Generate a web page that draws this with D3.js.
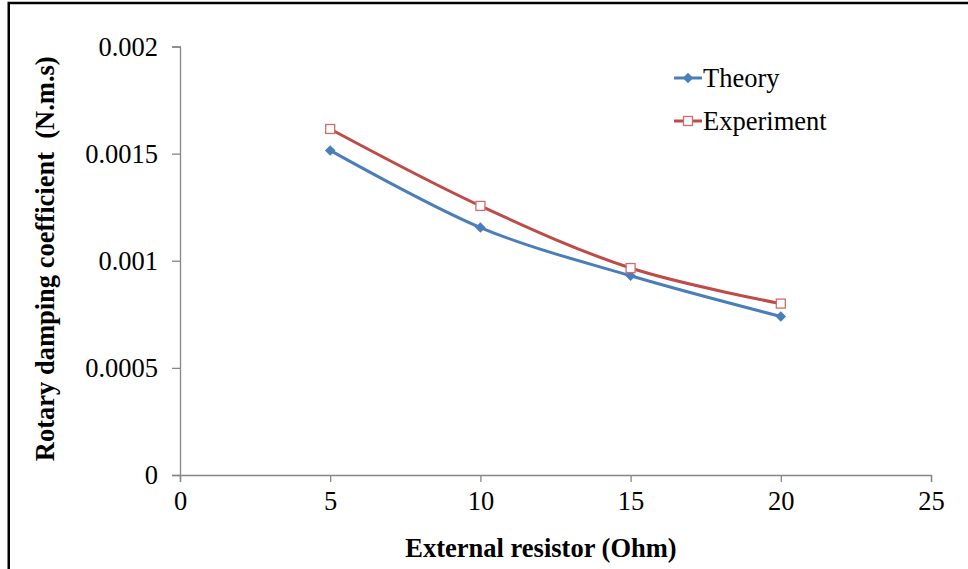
<!DOCTYPE html>
<html>
<head>
<meta charset="utf-8">
<script src="https://cdn.jsdelivr.net/npm/d3@7"></script>
<style>
  html, body { margin: 0; padding: 0; background: #fff; }
  svg { display: block; font-family: "Liberation Serif", "Times New Roman", serif; }
</style>
</head>
<body>
<div id="chart"></div>
<script>
// values
const resistors = [5, 10, 15, 20];
const theory = [0.001515, 0.001155, 0.00093, 0.00074];
const experiment = [0.001615, 0.001256, 0.000966, 0.0008];
const xTicks = [0, 5, 10, 15, 20, 25];
const yTicks = [0, 0.0005, 0.001, 0.0015, 0.002];
const seriesNames = ['Theory', 'Experiment'];

const width = 968;
const height = 569;
const margin = { top: 46.5, right: 37, bottom: 94, left: 180 };

const svg = d3.select('#chart')
  .append('svg')
  .attr('width', width)
  .attr('height', height);

// outer frame (bottom and right run off the picture)
svg.append('rect')
  .attr('x', 8.75)
  .attr('y', 3)
  .attr('width', 1000)
  .attr('height', 700)
  .attr('fill', 'none')
  .attr('stroke', '#000')
  .attr('stroke-width', 2.5);

const x = d3.scaleLinear()
  .domain([0, 25])
  .range([margin.left, width - margin.right]);

const y = d3.scaleLinear()
  .domain([0, 0.002])
  .range([height - margin.bottom, margin.top]);

const axisColor = '#868686';
const fontSize = 26.5;

/* x axis */
const gx = svg.append('g')
  .attr('transform', `translate(0,${y(0)})`)
  .call(d3.axisBottom(x).tickValues(xTicks).tickSize(7).tickPadding(9).tickFormat(d => d));
/* y axis */
const gy = svg.append('g')
  .attr('transform', `translate(${x(0)},0)`)
  .call(d3.axisLeft(y).tickValues(yTicks).tickSize(8).tickPadding(14).tickFormat(d => String(d)));

[gx, gy].forEach(g => {
  g.select('.domain').attr('stroke', axisColor).attr('stroke-width', 1.3);
  g.selectAll('.tick line').attr('stroke', axisColor).attr('stroke-width', 1.3);
  g.selectAll('.tick text')
    .attr('fill', '#000')
    .attr('font-size', fontSize)
    .attr('font-family', '"Liberation Serif", "Times New Roman", serif');
});
gy.selectAll('.tick text').attr('dy', '0.33em');
gx.selectAll('.tick text').attr('dy', '0.72em');

/* axis titles */
svg.append('text')
  .attr('x', 541)
  .attr('y', 557)
  .attr('text-anchor', 'middle')
  .attr('font-size', fontSize)
  .attr('font-weight', 'bold')
  .text('External resistor (Ohm)');

svg.append('text')
  .attr('transform', `translate(54,${(y(0) + y(0.002)) / 2 - 2}) rotate(-90)`)
  .attr('text-anchor', 'middle')
  .attr('font-size', fontSize)
  .attr('font-weight', 'bold')
  .attr('xml:space', 'preserve')
  .style('white-space', 'pre')
  .text('Rotary damping coefficient  (N.m.s)');

/* series */
const line = d3.line()
  .x(d => x(d.x))
  .y(d => y(d.y))
  .curve(d3.curveCardinal.tension(0));

const expData = resistors.map((r, i) => ({ x: r, y: experiment[i] }));
const thData = resistors.map((r, i) => ({ x: r, y: theory[i] }));

const blue = '#4A7EBB';
const red = '#BE4B48';

svg.append('path')
  .datum(expData)
  .attr('d', line)
  .attr('fill', 'none')
  .attr('stroke', red)
  .attr('stroke-width', 3);

svg.append('path')
  .datum(thData)
  .attr('d', line)
  .attr('fill', 'none')
  .attr('stroke', blue)
  .attr('stroke-width', 3);

const diamond = d3.symbol().type(d3.symbolDiamond2).size(70);

svg.append('g')
  .selectAll('path')
  .data(thData)
  .enter()
  .append('path')
  .attr('d', diamond)
  .attr('transform', d => `translate(${x(d.x)},${y(d.y)})`)
  .attr('fill', blue);

svg.append('g')
  .selectAll('rect')
  .data(expData)
  .enter()
  .append('rect')
  .attr('x', d => x(d.x) - 4.5)
  .attr('y', d => y(d.y) - 4.5)
  .attr('width', 9)
  .attr('height', 9)
  .attr('fill', '#fff')
  .attr('stroke', '#D06C69')
  .attr('stroke-width', 1.3);

/* legend */
const legend = svg.append('g').attr('transform', 'translate(674,0)');
const legendY = [78, 121];

seriesNames.forEach((name, i) => {
  const g = legend.append('g').attr('transform', `translate(0,${legendY[i]})`);
  g.append('line')
    .attr('x1', 0).attr('x2', 28)
    .attr('stroke', i === 0 ? blue : red)
    .attr('stroke-width', 3);
  if (i === 0) {
    g.append('path')
      .attr('d', diamond)
      .attr('transform', 'translate(14,0)')
      .attr('fill', blue);
  } else {
    g.append('rect')
      .attr('x', 9.5).attr('y', -4.5)
      .attr('width', 9).attr('height', 9)
      .attr('fill', '#fff')
      .attr('stroke', '#D06C69')
      .attr('stroke-width', 1.3);
  }
  g.append('text')
    .attr('x', 29)
    .attr('dy', '0.33em')
    .attr('font-size', fontSize)
    .text(name);
});
</script>
</body>
</html>
